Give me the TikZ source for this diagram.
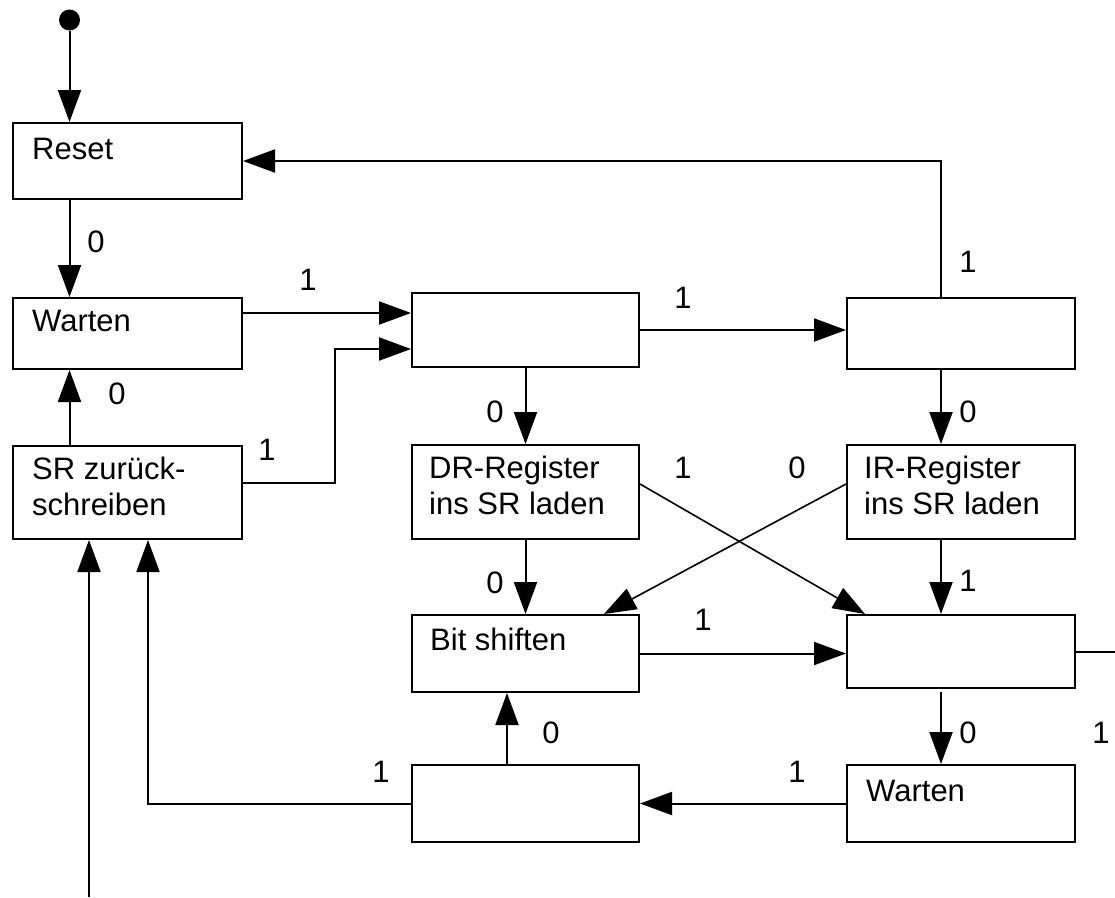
\documentclass[tikz,border=0pt]{standalone}
\usepackage{fontspec}
\setmainfont{Liberation Sans}
\usetikzlibrary{arrows.meta,calc}
\begin{document}
\begin{tikzpicture}[x=1pt,y=-1pt,
  box/.style={draw, line width=2pt, anchor=north west, inner sep=0pt},
  txt/.style={inner sep=0pt, anchor=base west, align=left, font=\fontsize{31}{36}\selectfont},
  lbl/.style={inner sep=0pt, font=\fontsize{31}{36}\selectfont},
  conn/.style={line width=2pt},
  arr/.style={conn, -{Triangle[length=32pt,width=23pt]}},
  diag/.style={line width=1.6pt, -{Triangle[length=32pt,width=23pt]}}]
\useasboundingbox (0,0) rectangle (1115,897);
% boxes
\node[box, minimum width=229pt, minimum height=76pt] (reset) at (12,122) {};
\node[box, minimum width=229pt, minimum height=71pt] (wait1) at (12,297) {};
\node[box, minimum width=229pt, minimum height=93pt] (sr) at (12,445) {};
\node[box, minimum width=227pt, minimum height=74pt] (a) at (411,292) {};
\node[box, minimum width=228pt, minimum height=71pt] (b) at (846,297) {};
\node[box, minimum width=227pt, minimum height=94pt] (dr) at (411,444) {};
\node[box, minimum width=228pt, minimum height=94pt] (ir) at (846,444) {};
\node[box, minimum width=227pt, minimum height=77pt] (bit) at (411,614) {};
\node[box, minimum width=228pt, minimum height=73pt] (c) at (846,614) {};
\node[box, minimum width=227pt, minimum height=77pt] (d) at (411,764) {};
\node[box, minimum width=228pt, minimum height=77pt] (wait2) at (846,764) {};
% box texts
\node[txt] (reset-t) at ([shift={(20,37)}]reset.north west) {Reset};
\node[txt] (wait1-t) at ([shift={(20,34)}]wait1.north west) {Warten};
\node[txt] (sr-t) at ([shift={(20,70)}]sr.north west) {SR zurück-\\schreiben};
\node[txt] (dr-t) at ([shift={(18,70)}]dr.north west) {DR-Register\\ins SR laden};
\node[txt] (ir-t) at ([shift={(18,70)}]ir.north west) {IR-Register\\ins SR laden};
\node[txt] (bit-t) at ([shift={(19,36)}]bit.north west) {Bit shiften};
\node[txt] (wait2-t) at ([shift={(20,37)}]wait2.north west) {Warten};
% initial state
\node[circle, fill, minimum size=21pt, inner sep=0pt] (init) at (69.5,20) {};
\coordinate (k1) at (335,349);
\coordinate (exitR) at (1115,650);
\coordinate (entry) at (89,897);
% connectors
\draw[arr] (init) -- (init |- reset.north);
\draw[arr] (init |- reset.south) -- (init |- wait1.north);
\draw[arr] (init |- sr.north) -- (init |- wait1.south);
\draw[arr] ([yshift=20.5pt]wait1.east) -- ([yshift=20.5pt]wait1.east -| a.west);
\draw[arr] ([yshift=9.5pt]sr.east) -| (k1) -- (k1 -| a.west);
\draw[arr] (a.east) -- (a.east -| b.west);
\draw[arr] ([xshift=-20pt]b.north) |- (reset.east);
\draw[arr] (a.south) -- (dr.north);
\draw[arr] ([xshift=-20pt]b.south) -- ([xshift=-20pt]ir.north);
\draw[diag] ([yshift=8pt]dr.east) -- ([xshift=19pt]c.north west);
\draw[diag] ([yshift=8pt]ir.west) -- ([xshift=-36pt]bit.north east);
\draw[arr] (dr.south) -- (bit.north);
\draw[arr] ([xshift=-20pt]ir.south) -- ([xshift=-20pt]c.north);
\draw[arr] (bit.east) -- (bit.east -| c.west);
\draw[conn] (c.east) -- (c.east -| exitR);
\draw[arr] ([xshift=-20pt,yshift=-3pt]c.south) -- ([xshift=-20pt]wait2.north);
\draw[arr] (wait2.west) -- (wait2.west -| d.east);
\draw[arr] ([xshift=-18.5pt]d.north) -- ([xshift=-18.5pt]d.north |- bit.south);
\draw[arr] (d.west) -| ([xshift=20.5pt]sr.south);
\draw[arr] (entry) -- (entry |- sr.south);
% labels
\node[lbl] (l1) at (96,242) {0};
\node[lbl] (l2) at (308,280) {1};
\node[lbl] (l3) at (117,394) {0};
\node[lbl] (l4) at (267,450) {1};
\node[lbl] (l5) at (683,298) {1};
\node[lbl] (l6) at (968,262) {1};
\node[lbl] (l7) at (968,412) {0};
\node[lbl] (l8) at (495,412) {0};
\node[lbl] (l9) at (683,468) {1};
\node[lbl] (l10) at (797,468) {0};
\node[lbl] (l11) at (495,583) {0};
\node[lbl] (l12) at (968,581) {1};
\node[lbl] (l13) at (703,620) {1};
\node[lbl] (l14) at (968,733) {0};
\node[lbl] (l15) at (1101,733) {1};
\node[lbl] (l16) at (797,772) {1};
\node[lbl] (l17) at (551,733) {0};
\node[lbl] (l18) at (381,772) {1};
\end{tikzpicture}
\end{document}
